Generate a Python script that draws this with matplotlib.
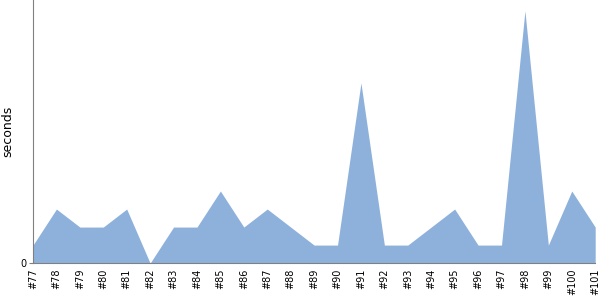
import numpy as np
import matplotlib
matplotlib.use('agg')
import matplotlib.pyplot as plt

builds = ['#%d' % n for n in range(77, 102)]
seconds = [1, 3, 2, 2, 3, 0, 2, 2, 4, 2, 3, 2, 1, 1, 10, 1, 1, 2, 3, 1, 1, 14, 1, 4, 2]

fig = plt.figure(figsize=(6, 3), dpi=100)
ax = fig.add_axes([0.055, 0.123, 0.937, 0.877])

x = np.arange(len(builds))
ax.fill_between(x, seconds, 0, color='#8eb1db', linewidth=0)

ax.set_xlim(0, len(builds) - 1)
ax.set_ylim(0, 14.6)
ax.set_xticks(x)
ax.set_xticklabels(builds, rotation=90, fontsize=7)
ax.set_yticks([0])
ax.set_yticklabels(['0'], fontsize=7)
ax.set_ylabel('seconds', fontsize=9)

for s in ['top', 'right']:
    ax.spines[s].set_visible(False)
for s in ['left', 'bottom']:
    ax.spines[s].set_color('#808080')
ax.tick_params(axis='x', length=0, pad=4)
ax.tick_params(axis='y', length=3, color='#808080', pad=2)

fig.savefig('out.png', dpi=100)
